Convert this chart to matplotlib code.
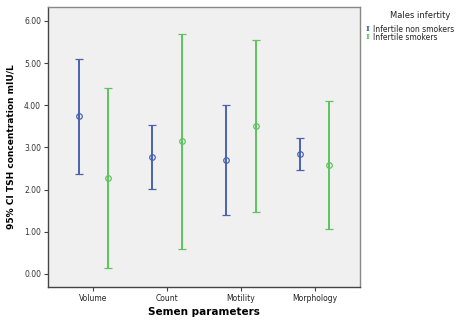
import numpy as np
from matplotlib import pyplot as plt

categories = ["Volume", "Count", "Motility", "Morphology"]
series = ["Infertile non smokers", "Infertile smokers"]

# media y limites del IC 95%
mean_ns = [3.74, 2.77, 2.70, 2.84]
low_ns = [2.37, 2.01, 1.39, 2.46]
high_ns = [5.10, 3.53, 4.01, 3.22]

mean_s = [2.27, 3.15, 3.50, 2.58]
low_s = [0.13, 0.59, 1.48, 1.06]
high_s = [4.40, 5.69, 5.54, 4.09]

colores = ["#4a63b0", "#5cc45e"]

fig = plt.figure(figsize=(4.59, 3.22), dpi=100)
ax = fig.add_axes([48/459, 35/322, 312/459, 280/322])
ax.set_facecolor("#f0f0f0")

x = np.arange(len(categories))
datos = [(mean_ns, low_ns, high_ns), (mean_s, low_s, high_s)]
for i, (m, lo, hi) in enumerate(datos):
    m = np.array(m); lo = np.array(lo); hi = np.array(hi)
    pos = x + (-0.2 if i == 0 else 0.2)
    ax.errorbar(pos, m, yerr=[m - lo, hi - m], fmt='o', mfc='none',
                mec=colores[i], color=colores[i], ecolor=colores[i],
                ms=4, mew=0.9, elinewidth=1.4, capsize=3, capthick=1.4)

ax.set_xlim(-0.615, 3.615)
ax.set_ylim(-0.31, 6.33)
ax.set_yticks(np.arange(0, 7))
ax.set_yticklabels([f"{v:.2f}" for v in range(7)], fontsize=5.5, color="#333333")
ax.set_xticks(x)
ax.set_xticklabels(categories, fontsize=5.5, color="#222222")
ax.tick_params(length=3, width=0.8, color="#444444", pad=2)
for s in ax.spines.values():
    s.set_color("#888888")
    s.set_linewidth(1)
ax.spines["left"].set_color("#444444")
ax.spines["bottom"].set_color("#444444")

ax.set_ylabel("95% CI TSH concentration mIU/L", fontsize=6.5, fontweight='bold', labelpad=6)
ax.set_xlabel("Semen parameters", fontsize=7.5, fontweight='bold', labelpad=3)

# leyenda
fig.text(420/459, 1 - 15/322, "Males infertity", fontsize=6, ha='center', va='center', color="#222222")
for i, nombre in enumerate(series):
    yy = 1 - (29 + 8*i)/322
    fig.text(366/459, yy, "I", fontsize=6, fontweight='bold', family='DejaVu Serif',
             color=colores[i], ha='left', va='center')
    fig.text(373/459, yy, nombre, fontsize=5.5, ha='left', va='center', color="#222222")

plt.savefig("out.png", dpi=100)
